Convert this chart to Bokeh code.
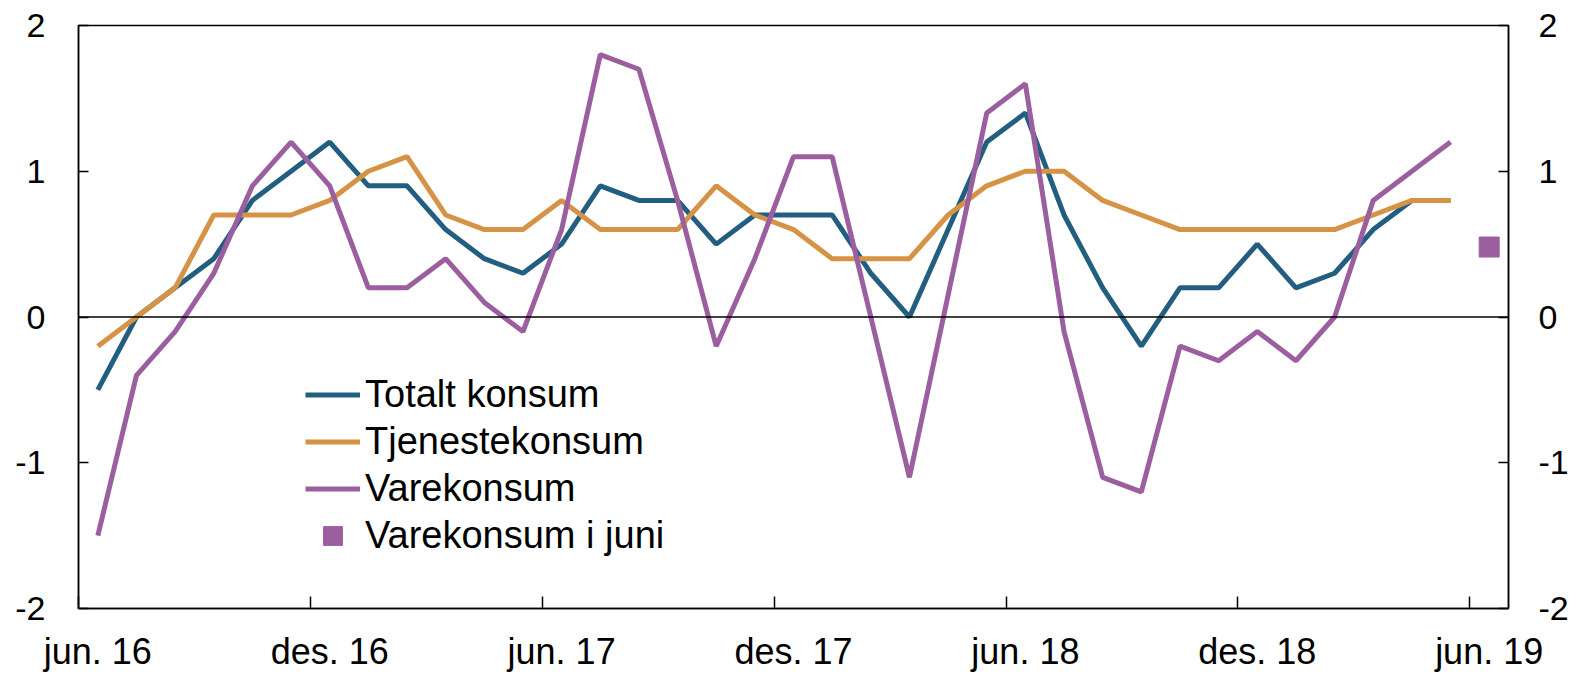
from bokeh.plotting import figure
from bokeh.models import LinearAxis, FixedTicker, Span, Legend, LegendItem, Range1d
from bokeh.embed import file_html
from bokeh.resources import INLINE

months = ["jun. 16", "jul. 16", "aug. 16", "sep. 16", "okt. 16", "nov. 16", "des. 16",
          "jan. 17", "feb. 17", "mar. 17", "apr. 17", "mai. 17", "jun. 17", "jul. 17",
          "aug. 17", "sep. 17", "okt. 17", "nov. 17", "des. 17", "jan. 18", "feb. 18",
          "mar. 18", "apr. 18", "mai. 18", "jun. 18", "jul. 18", "aug. 18", "sep. 18",
          "okt. 18", "nov. 18", "des. 18", "jan. 19", "feb. 19", "mar. 19", "apr. 19",
          "mai. 19"]
totalt = [-0.5, 0.0, 0.2, 0.4, 0.8, 1.0, 1.2, 0.9, 0.9, 0.6, 0.4, 0.3, 0.5, 0.9, 0.8, 0.8,
          0.5, 0.7, 0.7, 0.7, 0.3, 0.0, 0.6, 1.2, 1.4, 0.7, 0.2, -0.2, 0.2, 0.2, 0.5, 0.2,
          0.3, 0.6, 0.8, 0.8]
tjeneste = [-0.2, 0.0, 0.2, 0.7, 0.7, 0.7, 0.8, 1.0, 1.1, 0.7, 0.6, 0.6, 0.8, 0.6, 0.6, 0.6,
            0.9, 0.7, 0.6, 0.4, 0.4, 0.4, 0.7, 0.9, 1.0, 1.0, 0.8, 0.7, 0.6, 0.6, 0.6, 0.6,
            0.6, 0.7, 0.8, 0.8]
vare = [-1.5, -0.4, -0.1, 0.3, 0.9, 1.2, 0.9, 0.2, 0.2, 0.4, 0.1, -0.1, 0.6, 1.8, 1.7, 0.8,
        -0.2, 0.4, 1.1, 1.1, 0.0, -1.1, 0.15, 1.4, 1.6, -0.1, -1.1, -1.2, -0.2, -0.3, -0.1,
        -0.3, 0.0, 0.8, 1.0, 1.2]
juni_label = "jun. 19"
vare_juni = [0.48]

tick_labels = ["jun. 16", "des. 16", "jun. 17", "des. 17", "jun. 18", "des. 18", "jun. 19"]
y_ticks = [-2, -1, 0, 1, 2]

FONT = "Liberation Sans"
C_TOT = "#225E80"
C_TJ = "#D69245"
C_VARE = "#9B5FA0"

all_months = months + [juni_label]
xpos = [i + 0.5 for i in range(len(months))]
x_juni = [all_months.index(juni_label) + 0.5]

W, H = 1577, 674
p = figure(width=W, height=H, output_backend="svg", toolbar_location=None,
           x_range=Range1d(0, len(all_months)), y_range=Range1d(-2, 2),
           min_border_left=78, min_border_right=W - 1508, min_border_top=25,
           min_border_bottom=H - 608,
           x_axis_location=None, y_axis_location=None)
p.grid.visible = False
p.outline_line_color = "black"
p.outline_line_width = 1.5
p.background_fill_color = "white"

p.add_layout(Span(location=0, dimension="width", line_color="black", line_width=1.5))

r1 = p.line(xpos, totalt, line_color=C_TOT, line_width=5)
r2 = p.line(xpos, tjeneste, line_color=C_TJ, line_width=5)
r3 = p.line(xpos, vare, line_color=C_VARE, line_width=5)
r4 = p.scatter(x_juni, vare_juni, marker="square", size=20, fill_color=C_VARE, line_color=C_VARE)

# y axes
for side in ["left", "right"]:
    ax = LinearAxis(ticker=FixedTicker(ticks=y_ticks))
    ax.major_label_overrides = {t: str(t) for t in y_ticks}
    ax.major_tick_in = 10
    ax.major_tick_out = 0
    ax.minor_tick_line_color = None
    ax.axis_line_width = 1.5
    ax.major_tick_line_width = 1.5
    ax.major_label_text_font = FONT
    ax.major_label_text_font_size = "34px"
    ax.major_label_text_color = "black"
    ax.major_label_standoff = 33 if side == "left" else 30
    p.add_layout(ax, side)

# x axis: boundary ticks
tick_pos = [all_months.index(t) for t in tick_labels]
ax_t = LinearAxis(ticker=FixedTicker(ticks=tick_pos))
ax_t.major_tick_in = 12
ax_t.major_tick_out = 0
ax_t.minor_tick_line_color = None
ax_t.axis_line_width = 1.5
ax_t.major_tick_line_width = 1.5
ax_t.major_label_text_font_size = "1px"
ax_t.major_label_text_color = None
ax_t.major_label_standoff = 0
p.add_layout(ax_t, "below")

# x axis: labels at month centres
lab_pos = [all_months.index(t) + 0.5 for t in tick_labels]
ax_l = LinearAxis(ticker=FixedTicker(ticks=lab_pos))
ax_l.major_label_overrides = {pos: lab for pos, lab in zip(lab_pos, tick_labels)}
ax_l.axis_line_color = None
ax_l.major_tick_line_color = None
ax_l.minor_tick_line_color = None
ax_l.major_tick_in = 0
ax_l.major_tick_out = 0
ax_l.major_label_text_font = FONT
ax_l.major_label_text_font_size = "36px"
ax_l.major_label_text_color = "black"
ax_l.major_label_standoff = 22
p.add_layout(ax_l, "below")

legend = Legend(items=[
    LegendItem(label="Totalt konsum", renderers=[r1]),
    LegendItem(label="Tjenestekonsum", renderers=[r2]),
    LegendItem(label="Varekonsum", renderers=[r3]),
    LegendItem(label="Varekonsum i juni", renderers=[r4]),
], location=(227, 49))
legend.label_text_font = FONT
legend.label_text_font_size = "38px"
legend.label_text_color = "black"
legend.glyph_width = 55
legend.glyph_height = 47
legend.label_height = 47
legend.spacing = 0
legend.label_standoff = 5
legend.padding = 0
legend.margin = 0
legend.border_line_color = None
legend.background_fill_alpha = 0
p.add_layout(legend, "center")

open("out.html", "w").write(file_html(p, INLINE))
